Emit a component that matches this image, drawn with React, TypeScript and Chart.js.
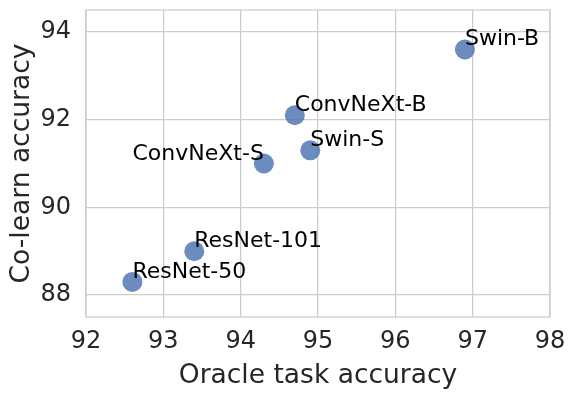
import React, { useEffect, useRef } from "react";
import { Chart, registerables } from "chart.js";

Chart.register(...registerables);

const models = ["Swin-B", "ConvNeXt-B", "Swin-S", "ConvNeXt-S", "ResNet-101", "ResNet-50"];
const oracleAcc = [96.9, 94.7, 94.9, 94.3, 93.4, 92.6];
const coLearnAcc = [93.6, 92.1, 91.3, 91.0, 89.0, 88.3];
const labelAlign = ["left", "left", "left", "right", "left", "left"];
const xTicks = [92, 93, 94, 95, 96, 97, 98];
const yTicks = [88, 90, 92, 94];

const FONT = "'DejaVu Sans', sans-serif";

export default function App() {
  const ref = useRef<HTMLCanvasElement>(null);
  useEffect(() => {
    document.body.style.margin = "0";
    const labelPlugin = {
      id: "labels",
      beforeDatasetsDraw(chart: any) {
        const { ctx, chartArea } = chart;
        ctx.save();
        ctx.strokeStyle = "#cccccc";
        ctx.lineWidth = 1.25;
        ctx.strokeRect(chartArea.left, chartArea.top, chartArea.right - chartArea.left, chartArea.bottom - chartArea.top);
        ctx.restore();
      },
      afterDatasetsDraw(chart: any) {
        const { ctx } = chart;
        const xs = chart.scales.x;
        const ys = chart.scales.y;
        ctx.save();
        ctx.font = `22px ${FONT}`;
        ctx.fillStyle = "#000000";
        ctx.textBaseline = "alphabetic";
        models.forEach((m, i) => {
          const px = xs.getPixelForValue(oracleAcc[i]);
          const py = ys.getPixelForValue(coLearnAcc[i]);
          ctx.textAlign = labelAlign[i] as CanvasTextAlign;
          ctx.fillText(m, px, py - 4);
        });
        ctx.restore();
      },
    };
    const chart = new Chart(ref.current!, {
      type: "scatter",
      data: {
        datasets: [
          {
            data: oracleAcc.map((x, i) => ({ x, y: coLearnAcc[i] })),
            backgroundColor: "rgba(76,114,176,0.82)",
            borderWidth: 0,
            pointRadius: 10,
            pointHoverRadius: 10,
          },
        ],
      },
      options: {
        animation: false,
        responsive: false,
        layout: { padding: { left: 0, right: 26, top: 9, bottom: 0 } },
        plugins: { legend: { display: false }, tooltip: { enabled: false } },
        scales: {
          x: {
            type: "linear",
            min: 92,
            max: 98,
            afterBuildTicks: (s: any) => { s.ticks = xTicks.map((v) => ({ value: v })); },
            afterFit: (s: any) => { s.height = 79; s.paddingLeft = 0; s.paddingRight = 0; },
            grid: { color: "#cccccc", lineWidth: 1.25, drawTicks: false },
            border: { display: false },
            ticks: { color: "#262626", font: { family: FONT, size: 24 }, padding: 10 },
            title: { display: true, text: "Oracle task accuracy", color: "#262626", font: { family: FONT, size: 26.5 }, padding: { top: 2 } },
          },
          y: {
            type: "linear",
            min: 87.5,
            max: 94.5,
            afterBuildTicks: (s: any) => { s.ticks = yTicks.map((v) => ({ value: v })); },
            afterFit: (s: any) => { s.width = 86; s.paddingTop = 0; s.paddingBottom = 0; },
            grid: { color: "#cccccc", lineWidth: 1.25, drawTicks: false },
            border: { display: false },
            ticks: { color: "#262626", font: { family: FONT, size: 24 }, padding: 15 },
            title: { display: true, text: "Co-learn accuracy", color: "#262626", font: { family: FONT, size: 26.5 }, padding: { top: 6, bottom: 4 } },
          },
        },
      },
      plugins: [labelPlugin],
    });
    return () => chart.destroy();
  }, []);
  return (
    <div style={{ width: 576, height: 396 }}>
      <canvas ref={ref} width={576} height={396} style={{ display: "block" }} />
    </div>
  );
}
